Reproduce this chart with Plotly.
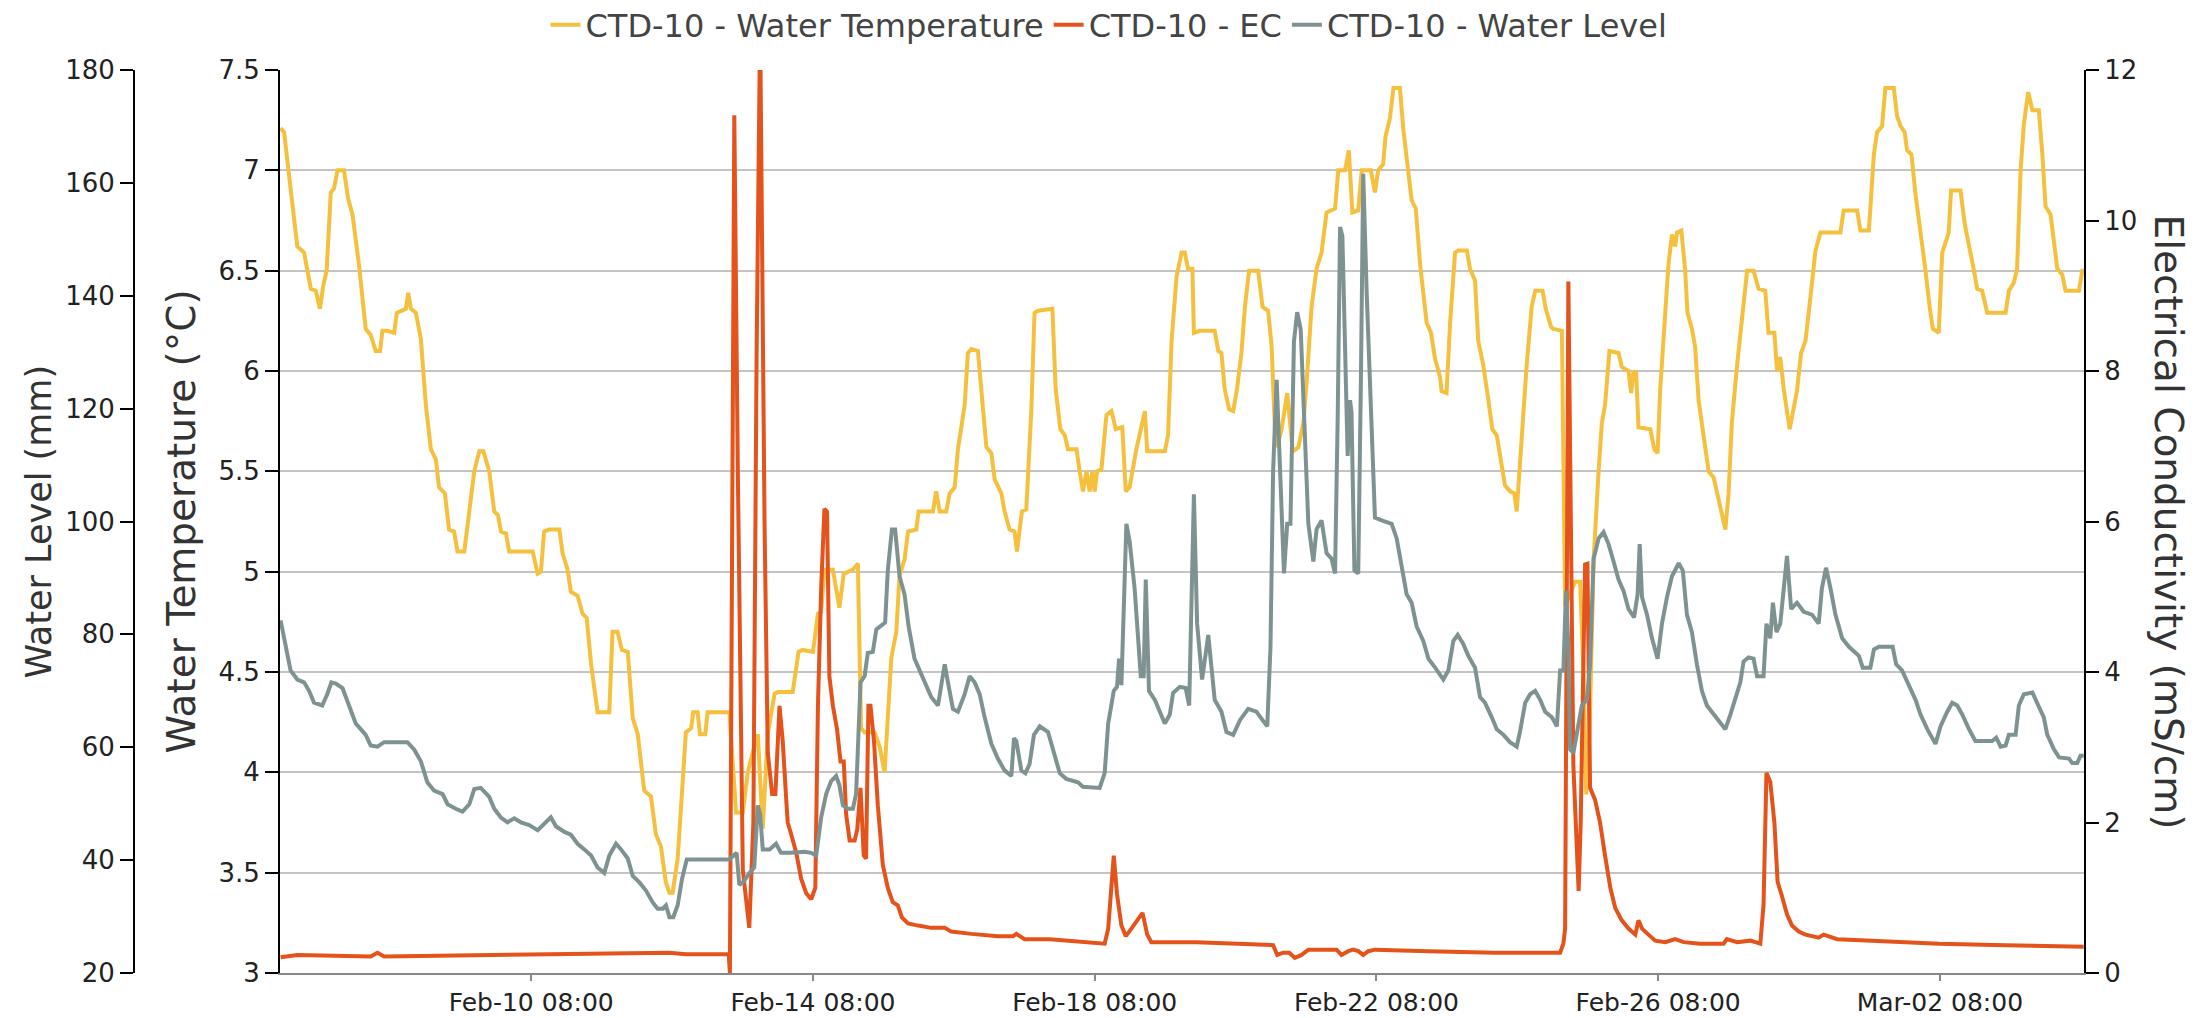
import pandas as pd
import plotly.graph_objects as go

# ---------------- data ----------------
START = "2023-02-06 18:00"          # hours below are counted from this moment
X_RANGE_H = [0.4, 615.1]

TEMP_H = [0.5, 1.8, 4.0, 6.3, 8.6, 9.7, 10.9, 12.6, 14.0, 15.2, 16.3, 17.7, 18.8, 20.0, 22.2, 23.6, 25.1,
          27.3, 29.6, 31.3, 33.0, 34.5, 35.3, 37.0, 39.3, 40.2, 42.1, 43.3, 44.1, 45.0, 46.7, 48.4, 50.1,
          51.8, 53.5, 54.6, 56.6, 58.0, 59.7, 60.9, 63.2, 64.9, 66.6, 68.3, 69.7, 71.7, 73.4, 74.7, 75.7,
          77.4, 78.5, 85.3, 86.5, 88.2, 89.3, 90.4, 92.1, 95.6, 96.7, 98.4, 99.5, 101.8, 103.5, 104.9,
          106.4, 108.6, 112.6, 113.7, 115.4, 116.9, 118.9, 120.6, 122.3, 124.5, 126.8, 128.5, 130.2,
          131.9, 133.1, 134.2, 135.9, 137.6, 138.7, 140.5, 141.2, 142.7, 143.5, 145.3, 146.1, 153.5,
          155.8, 158.1, 159.8, 161.5, 163.2, 164.9, 166.6, 168.9, 170.0, 175.1, 177.1, 178.5, 182.0,
          183.7, 184.8, 185.9, 188.8, 191.0, 192.5, 195.6, 197.3, 198.4, 199.6, 203.0, 204.7, 206.4,
          208.7, 210.4, 211.5, 213.2, 214.4, 217.2, 218.0, 222.9, 224.0, 225.2, 227.4, 228.6, 230.3,
          231.4, 233.7, 234.8, 236.0, 238.2, 239.4, 241.1, 242.8, 243.9, 246.2, 247.3, 249.0, 250.7,
          251.5, 252.4, 253.2, 254.7, 256.4, 257.5, 258.7, 263.6, 264.7, 266.3, 267.8, 268.9, 271.8,
          272.9, 274.0, 275.2, 276.3, 277.2, 278.0, 278.8, 280.3, 282.0, 283.7, 285.2, 287.4, 288.6,
          289.9, 292.2, 293.9, 295.1, 295.9, 301.9, 303.0, 304.2, 305.9, 307.6, 308.7, 309.8, 311.3,
          311.8, 313.8, 318.9, 320.1, 321.2, 322.3, 323.8, 325.2, 326.5, 328.0, 329.2, 330.6, 333.7,
          335.2, 337.1, 338.3, 339.4, 340.2, 341.7, 343.6, 345.5, 347.4, 349.1, 350.2, 351.9, 353.6,
          355.3, 357.0, 359.9, 361.0, 363.3, 364.6, 365.8, 367.8, 369.0, 372.1, 373.5, 374.6, 376.3,
          377.1, 378.6, 379.8, 382.0, 383.2, 384.9, 386.0, 387.4, 388.9, 391.1, 392.6, 394.0, 395.7,
          396.2, 397.9, 399.1, 400.8, 401.9, 404.8, 405.9, 407.6, 408.7, 410.4, 411.9, 413.5, 415.0,
          416.1, 417.8, 419.5, 421.0, 421.8, 423.5, 425.2, 426.9, 428.1, 430.6, 431.7, 433.5, 434.3,
          437.2, 438.3, 441.7, 443.4, 444.6, 445.5, 446.6, 448.0, 449.7, 450.8, 451.9, 453.4, 456.5,
          457.6, 459.9, 460.8, 461.6, 462.5, 463.3, 467.3, 468.7, 469.8, 470.7, 472.4, 473.5, 474.7,
          475.8, 476.4, 477.9, 479.2, 480.0, 481.5, 482.6, 483.8, 485.5, 487.2, 488.9, 490.6, 491.7,
          492.9, 494.0, 495.1, 496.9, 498.6, 500.3, 502.5, 504.2, 506.5, 507.6, 509.6, 510.5, 511.6,
          512.8, 514.8, 515.9, 517.3, 518.7, 520.2, 521.9, 523.6, 525.3, 532.1, 533.2, 537.8, 538.9,
          541.8, 543.5, 544.6, 546.3, 547.4, 550.3, 551.4, 552.6, 554.0, 554.8, 556.3, 557.7, 559.4,
          561.1, 562.5, 563.6, 565.6, 566.8, 567.9, 569.0, 569.8, 573.0, 574.5, 576.1, 577.6, 578.7,
          580.4, 582.1, 588.4, 589.5, 591.2, 592.3, 593.5, 594.6, 596.1, 597.5, 599.7, 600.9, 602.0,
          603.7, 604.9, 606.0, 607.7, 608.8, 613.4, 614.5, 615.0]
TEMP_V = [7.21, 7.19, 6.91, 6.62, 6.59, 6.51, 6.41, 6.40, 6.31, 6.43, 6.50, 6.89, 6.91, 7.00, 7.00, 6.86, 6.78,
          6.53, 6.21, 6.18, 6.10, 6.10, 6.20, 6.20, 6.19, 6.29, 6.30, 6.31, 6.39, 6.31, 6.29, 6.16, 5.83,
          5.61, 5.56, 5.42, 5.39, 5.21, 5.20, 5.10, 5.10, 5.30, 5.50, 5.60, 5.60, 5.50, 5.30, 5.28, 5.20,
          5.19, 5.10, 5.10, 5.10, 4.99, 5.00, 5.20, 5.21, 5.21, 5.09, 5.01, 4.90, 4.88, 4.79, 4.77,
          4.54, 4.30, 4.30, 4.70, 4.70, 4.61, 4.60, 4.27, 4.19, 3.91, 3.88, 3.69, 3.63,
          3.45, 3.40, 3.40, 3.57, 3.95, 4.20, 4.22, 4.30, 4.30, 4.19, 4.19, 4.30, 4.30,
          3.80, 3.80, 4.00, 4.10, 4.19, 3.72, 4.19, 4.39, 4.40, 4.40, 4.60, 4.61, 4.60,
          4.79, 4.80, 5.01, 5.01, 4.82, 4.99, 5.01, 5.04, 4.22, 4.20, 4.20, 4.13, 4.00,
          4.57, 4.70, 4.98, 5.06, 5.20, 5.21, 5.30, 5.30, 5.40, 5.30, 5.30, 5.39, 5.42,
          5.61, 5.83, 6.09, 6.11, 6.10, 5.91, 5.62, 5.59, 5.46, 5.39, 5.30, 5.21, 5.20,
          5.10, 5.21, 5.30, 5.31, 5.80, 6.29, 6.30, 6.31, 5.91, 5.71, 5.68, 5.61, 5.61,
          5.50, 5.40, 5.50, 5.40, 5.50, 5.40, 5.50, 5.51, 5.78, 5.80, 5.71, 5.72, 5.40,
          5.42, 5.61, 5.71, 5.80, 5.60, 5.60, 5.68, 6.15, 6.47, 6.59, 6.59, 6.51, 6.51,
          6.19, 6.20, 6.20, 6.10, 6.09, 5.91, 5.81, 5.80, 5.91, 6.09, 6.32, 6.50, 6.50,
          6.32, 6.30, 6.12, 5.71, 5.62, 5.71, 5.89, 5.60, 5.62, 5.74, 5.94, 6.32, 6.51,
          6.59, 6.79, 6.81, 7.00, 7.00, 7.10, 6.79, 6.80, 7.00, 7.00, 6.89, 7.00, 7.03,
          7.17, 7.26, 7.41, 7.41, 7.20, 6.97, 6.85, 6.81, 6.53, 6.24, 6.19, 6.06, 5.97,
          5.90, 5.89, 6.24, 6.59, 6.60, 6.60, 6.51, 6.45, 6.15, 6.03, 5.88, 5.71, 5.68,
          5.59, 5.43, 5.40, 5.39, 5.30, 5.68, 6.03, 6.32, 6.40, 6.40, 6.31, 6.22, 6.21,
          6.20, 4.83, 4.95, 4.95, 4.48, 3.89, 4.19, 5.06, 5.50, 5.74, 5.83, 6.10, 6.09,
          6.02, 6.00, 5.89, 6.00, 5.99, 5.72, 5.71, 5.61, 5.59, 5.91, 6.32, 6.53, 6.68,
          6.62, 6.69, 6.70, 6.50, 6.29, 6.21, 6.12, 5.85, 5.68, 5.50, 5.47, 5.36, 5.30,
          5.21, 5.39, 5.74, 6.03, 6.29, 6.50, 6.50, 6.41, 6.40, 6.19, 6.19, 6.00, 6.07,
          5.91, 5.71, 5.80, 5.90, 6.09, 6.15, 6.37, 6.60, 6.69, 6.69, 6.80, 6.80, 6.70,
          6.70, 7.08, 7.19, 7.22, 7.41, 7.41, 7.27, 7.22, 7.19, 7.10, 7.08, 6.88, 6.70,
          6.50, 6.32, 6.21, 6.19, 6.59, 6.64, 6.69, 6.90, 6.90, 6.73, 6.62, 6.50, 6.41,
          6.40, 6.29, 6.29, 6.40, 6.44, 6.51, 7.00, 7.23, 7.39, 7.30, 7.30, 7.08, 6.82,
          6.78, 6.62, 6.51, 6.48, 6.40, 6.40, 6.50, 6.50]

EC_H = [0.6, 6.3, 31.3, 33.6, 35.9, 60.0, 88.7, 110.0, 133.1, 138.7, 153.3, 153.7, 155.2, 156.4, 158.1,
        160.3, 161.7, 162.8, 164.0, 165.5, 166.6, 168.1, 169.2, 170.6, 171.7, 172.9, 173.4, 174.6, 176.3,
        178.0, 179.7, 181.4, 182.8, 183.7, 184.8, 185.9, 186.8, 187.6, 188.8, 190.2, 191.4, 192.5, 193.3,
        194.5, 196.2, 197.1, 198.2, 199.3, 200.1, 200.9, 201.6, 202.8, 204.1, 205.8, 207.5, 209.2, 210.9,
        212.3, 214.4, 217.8, 222.3, 226.9, 229.1, 236.0, 245.0, 250.2, 251.3, 254.1, 262.7, 281.4, 282.6,
        284.5, 285.6, 287.1, 288.6, 290.5, 292.8, 294.3, 295.9, 297.3, 312.7, 327.5, 338.8, 340.2, 342.2,
        344.3, 346.2, 348.5, 350.8, 360.4, 362.1, 364.4, 366.1, 367.8, 369.5, 371.2, 373.5, 391.7, 414.4,
        436.6, 437.7, 438.3, 439.4, 441.1, 442.9, 443.6, 445.1, 445.9, 446.8, 448.5, 450.2, 451.9, 453.7,
        455.4, 457.6, 459.9, 462.2, 463.3, 464.5, 466.7, 469.0, 472.4, 475.8, 478.7, 484.3, 492.3, 493.4,
        496.9, 501.4, 504.8, 505.9, 506.9, 508.2, 509.6, 510.7, 512.2, 513.9, 515.6, 517.9, 520.2, 524.7,
        526.4, 528.7, 531.0, 542.9, 565.6, 588.4, 615.0]
EC_V = [0.21, 0.24, 0.22, 0.27, 0.22, 0.23, 0.24, 0.25, 0.27, 0.25, 0.25, 0.00, 11.40, 6.68, 1.37,
        0.60, 2.00, 8.24, 12.6, 6.00, 2.93, 2.38, 2.38, 3.55, 3.08, 2.30, 2.00, 1.84, 1.60,
        1.25, 1.06, 0.98, 1.13, 3.55, 5.11, 6.17, 6.13, 3.94, 3.55, 3.24, 2.81, 2.81, 2.11,
        1.76, 1.76, 1.91, 2.46, 1.56, 1.52, 3.55, 3.55, 3.08, 2.23, 1.44, 1.13, 0.94, 0.90,
        0.74, 0.66, 0.63, 0.60, 0.60, 0.55, 0.52, 0.49, 0.49, 0.52, 0.45, 0.45, 0.39, 0.59,
        1.56, 1.05, 0.63, 0.49, 0.59, 0.73, 0.80, 0.51, 0.41, 0.41, 0.39, 0.37, 0.24, 0.27,
        0.27, 0.20, 0.24, 0.31, 0.31, 0.24, 0.29, 0.31, 0.29, 0.24, 0.29, 0.31, 0.29, 0.27,
        0.27, 0.39, 0.59, 9.19, 2.77, 1.09, 2.00, 5.43, 5.44, 2.46, 2.30, 2.00, 1.56, 1.13,
        0.86, 0.70, 0.59, 0.51, 0.70, 0.59, 0.51, 0.43, 0.41, 0.45, 0.41, 0.39, 0.39, 0.45,
        0.41, 0.43, 0.39, 0.90, 2.66, 2.54, 2.00, 1.21, 1.02, 0.78, 0.63, 0.55, 0.51, 0.47,
        0.51, 0.48, 0.45, 0.43, 0.39, 0.37, 0.35]

WL_H = [0.6, 2.3, 4.0, 6.3, 8.6, 10.3, 12.0, 14.8, 16.5, 17.9, 19.4, 21.7, 23.9, 26.2, 27.9, 29.6, 31.3,
        33.6, 35.9, 43.8, 46.1, 48.4, 50.6, 52.9, 55.8, 57.5, 60.3, 62.6, 64.9, 66.6, 68.8, 71.7, 73.4,
        75.6, 77.9, 80.2, 82.5, 85.3, 88.2, 90.4, 92.7, 94.4, 97.3, 99.5, 101.8, 104.1, 106.4, 108.6,
        110.9, 112.6, 114.9, 116.6, 118.9, 120.6, 122.8, 125.1, 127.4, 129.1, 130.8, 131.9, 133.1,
        134.4, 135.9, 137.4, 139.0, 153.5, 155.2, 156.0, 156.9, 158.6, 160.3, 162.0, 163.2, 164.0,
        164.9, 167.2, 169.4, 171.1, 172.9, 174.6, 179.1, 181.4, 183.1, 184.8, 186.5, 188.2, 189.9,
        191.0, 192.2, 193.9, 195.6, 196.7, 198.2, 199.6, 200.7, 202.4, 203.6, 205.3, 206.6, 207.5,
        208.9, 210.0, 211.5, 213.2, 214.6, 216.6, 218.3, 220.0, 222.3, 224.6, 225.7, 226.9, 228.0,
        229.7, 231.4, 233.7, 235.4, 237.1, 238.8, 240.5, 242.8, 245.0, 247.3, 249.6, 250.5, 251.3,
        253.0, 254.4, 255.8, 257.3, 259.3, 262.1, 264.4, 266.1, 268.3, 272.3, 274.0, 279.7, 281.4,
        282.6, 284.5, 285.6, 286.3, 287.1, 288.8, 289.9, 291.6, 293.7, 294.7, 295.4, 296.5, 298.5,
        300.2, 301.9, 303.6, 304.7, 307.0, 309.0, 310.2, 311.8, 312.9, 314.6, 316.7, 318.9, 321.2,
        322.9, 325.2, 327.5, 330.3, 333.1, 335.2, 336.8, 337.9, 338.8, 340.0, 341.3, 342.5, 343.6,
        344.7, 345.9, 347.0, 348.2, 349.6, 350.8, 352.5, 353.6, 355.3, 357.0, 358.7, 359.9, 360.8,
        361.6, 362.4, 363.3, 364.2, 365.0, 365.5, 366.5, 367.8, 368.7, 369.5, 370.7, 372.4, 373.5,
        375.8, 379.2, 380.9, 382.4, 384.3, 386.0, 387.7, 390.0, 391.7, 394.0, 396.8, 398.5, 400.2,
        401.7, 403.6, 405.3, 407.6, 409.3, 411.0, 413.3, 415.0, 417.3, 419.5, 421.8, 422.9, 424.7,
        426.4, 428.1, 429.8, 431.5, 433.8, 435.5, 436.6, 437.7, 438.6, 439.4, 440.0, 441.1, 442.3,
        444.0, 445.7, 446.8, 448.0, 449.7, 451.4, 453.1, 454.8, 456.5, 458.2, 459.9, 461.8, 463.0,
        463.7, 464.5, 466.2, 467.9, 469.8, 471.3, 473.0, 474.7, 477.0, 478.4, 479.8, 481.5, 483.2,
        484.9, 486.6, 488.9, 491.2, 492.9, 494.6, 496.3, 498.0, 499.1, 500.8, 502.5, 503.7, 505.9,
        506.9, 508.2, 509.1, 510.3, 511.6, 513.9, 515.3, 517.3, 519.6, 522.4, 524.7, 525.8, 527.2,
        528.7, 530.4, 532.7, 535.0, 538.4, 539.7, 542.3, 543.5, 545.2, 549.9, 551.1, 553.1, 555.4,
        557.7, 559.4, 561.7, 564.5, 566.2, 568.5, 570.2, 571.9, 573.6, 575.9, 578.1, 583.8, 585.2,
        586.7, 588.4, 589.5, 591.8, 592.9, 594.6, 597.5, 599.7, 601.4, 602.6, 604.9, 606.6, 610.0,
        611.1, 612.8, 613.9, 615.0]
WL_V = [82.5, 77.8, 73.6, 72.0, 71.5, 70.0, 67.9, 67.4, 69.4, 71.5, 71.3, 70.5, 67.4, 64.2, 63.2, 62.2, 60.3,
        60.1, 60.9, 60.9, 59.6, 57.5, 53.8, 52.3, 51.7, 49.9, 49.1, 48.6, 49.9, 52.6, 52.8, 51.2, 49.1,
        47.6, 46.7, 47.4, 46.7, 46.2, 45.3, 46.5, 47.6, 46.0, 45.0, 44.5, 42.9, 41.9, 40.8, 38.7,
        37.7, 40.8, 42.9, 41.9, 40.3, 37.2, 36.1, 34.6, 32.5, 31.4, 31.4, 32.0, 29.9,
        29.9, 32.0, 36.7, 40.1, 40.1, 40.8, 41.3, 35.6, 36.3, 37.7, 38.7, 49.7, 48.1,
        41.9, 41.9, 42.9, 41.3, 41.3, 41.3, 41.5, 41.3, 40.8, 47.6, 51.7, 54.0, 54.9,
        53.3, 49.7, 49.1, 49.1, 51.7, 71.5, 72.6, 76.7, 76.9, 80.9, 81.7, 82.1, 91.3,
        98.6, 98.6, 90.3, 87.1, 81.4, 75.7, 73.6, 71.5, 68.9, 67.4, 70.5, 74.7, 71.5,
        66.8, 66.3, 69.4, 72.6, 71.5, 69.4, 65.3, 60.6, 58.0, 55.9, 54.9, 61.6, 61.1,
        55.9, 55.4, 57.0, 62.2, 63.7, 62.7, 58.5, 55.4, 54.4, 53.8, 53.0, 52.8, 55.4,
        64.2, 70.0, 70.7, 75.7, 71.0, 99.6, 96.5, 88.2, 72.6, 72.6, 89.7, 70.0, 68.4,
        66.3, 64.2, 65.8, 69.6, 70.7, 70.5, 67.4, 104.8, 81.9, 72.0, 79.9, 68.4, 66.3,
        62.7, 62.2, 64.8, 66.8, 66.3, 64.8, 63.7, 77.8, 109.0, 125.1, 109.0, 90.8, 99.6,
        99.6, 131.9, 137.1, 134.0, 114.2, 99.6, 92.9, 98.6, 100.2, 94.4, 93.4, 90.8, 118.4,
        152.2, 150.6, 129.8, 111.6, 121.5, 119.4, 91.3, 90.8, 124.6, 161.6, 140.2, 114.2, 100.7,
        100.2, 99.6, 97.0, 92.3, 87.1, 85.6, 81.4, 78.8, 75.7, 74.1, 72.0, 73.6, 78.8,
        79.9, 78.3, 76.2, 74.1, 68.9, 67.9, 65.3, 63.2, 62.2, 60.9, 60.1, 62.7, 67.9,
        69.4, 70.0, 68.4, 66.3, 65.3, 63.7, 73.6, 73.6, 87.7, 77.8, 59.6, 59.0, 62.2,
        67.4, 68.4, 74.7, 93.4, 97.0, 98.1, 96.0, 92.9, 89.7, 87.7, 84.5, 83.0, 87.1,
        96.0, 86.6, 83.5, 79.3, 75.7, 81.9, 86.6, 90.3, 92.6, 91.3, 83.5, 80.4, 74.7,
        70.0, 67.4, 65.8, 64.2, 63.2, 65.8, 68.9, 71.5, 75.2, 75.9, 75.7, 72.6, 72.6,
        81.9, 79.3, 85.6, 80.4, 81.9, 93.9, 84.5, 85.6, 84.0, 83.5, 81.9, 88.2, 91.8,
        88.2, 83.5, 79.3, 77.8, 76.2, 74.1, 74.1, 77.3, 77.8, 77.8, 74.7, 73.6, 71.0,
        68.4, 65.8, 63.2, 60.6, 63.7, 66.3, 67.9, 67.4, 65.8, 63.2, 61.1, 61.1, 61.7,
        60.1, 60.3, 62.2, 62.2, 67.4, 69.4, 69.7, 67.4, 65.3, 62.2, 59.6, 58.2, 58.0,
        57.2, 57.2, 58.5, 58.5]

X_TICKS = ["2023-02-10 08:00", "2023-02-14 08:00", "2023-02-18 08:00",
           "2023-02-22 08:00", "2023-02-26 08:00", "2023-03-02 08:00"]
X_TICK_TEXT = ["Feb-10 08:00", "Feb-14 08:00", "Feb-18 08:00",
               "Feb-22 08:00", "Feb-26 08:00", "Mar-02 08:00"]
TEMP_TICKS = [3, 3.5, 4, 4.5, 5, 5.5, 6, 6.5, 7, 7.5]
TEMP_TICK_TEXT = ["3", "3.5", "4", "4.5", "5", "5.5", "6", "6.5", "7", "7.5"]
EC_TICKS = [0, 2, 4, 6, 8, 10, 12]
WL_TICKS = [20, 40, 60, 80, 100, 120, 140, 160, 180]

NAMES = ["CTD-10 - Water Temperature", "CTD-10 - EC", "CTD-10 - Water Level"]
COLORS = ["#F6C03F", "#E4531C", "#7E9292"]
TITLES = ["Water Level (mm)", "Water Temperature (°C)", "Electrical Conductivity (mS/cm)"]

# ---------------- figure ----------------
t0 = pd.Timestamp(START)
def to_time(hours):
    return t0 + pd.to_timedelta(hours, unit="h")

FONT = "DejaVu Sans, Verdana, sans-serif"
W, H = 2208, 1018
ML, MR, MT, MB = 134, 124, 70, 45
PLOT_LEFT = 280

fig = go.Figure()
fig.add_trace(go.Scatter(x=to_time(TEMP_H), y=TEMP_V, name=NAMES[0], mode="lines",
                         line=dict(color=COLORS[0], width=4), yaxis="y"))
fig.add_trace(go.Scatter(x=to_time(EC_H), y=EC_V, name=NAMES[1], mode="lines",
                         line=dict(color=COLORS[1], width=4), yaxis="y2"))
fig.add_trace(go.Scatter(x=to_time(WL_H), y=WL_V, name=NAMES[2], mode="lines",
                         line=dict(color=COLORS[2], width=4), yaxis="y3"))

paper_w = W - ML - MR
axis_common = dict(ticks="outside", ticklen=13, tickwidth=2, tickcolor="#000",
                   showline=True, linecolor="#000", linewidth=2, zeroline=False,
                   tickfont=dict(size=26, color="#222"))
fig.update_layout(
    width=W, height=H,
    margin=dict(l=ML, r=MR, t=MT, b=MB, autoexpand=False),
    paper_bgcolor="white", plot_bgcolor="white",
    font=dict(family=FONT, size=24, color="#222"),
    showlegend=True,
    legend=dict(orientation="h", x=0.5, xanchor="center", y=(H - MB - 25) / (H - MT - MB),
                yanchor="middle", font=dict(size=32, color="#444"), traceorder="normal",
                itemwidth=30, bgcolor="rgba(0,0,0,0)"),
    xaxis=dict(type="date", domain=[(PLOT_LEFT - ML) / paper_w, 1],
               range=[to_time(X_RANGE_H[0]), to_time(X_RANGE_H[1])],
               tickmode="array", tickvals=X_TICKS, ticktext=X_TICK_TEXT,
               ticks="outside", ticklen=6, tickwidth=2, tickcolor="#888",
               showline=True, linecolor="#888", linewidth=2, showgrid=False, zeroline=False,
               tickfont=dict(size=25, color="#222")),
    yaxis=dict(range=[3, 7.5], tickmode="array", tickvals=TEMP_TICKS, ticktext=TEMP_TICK_TEXT,
               showgrid=True, gridcolor="#c4c4c4", gridwidth=2, **axis_common),
    yaxis2=dict(range=[0, 12], overlaying="y", side="right", anchor="x",
                tickmode="array", tickvals=EC_TICKS, showgrid=False, **axis_common),
    yaxis3=dict(range=[20, 180], overlaying="y", side="left", anchor="free", position=0,
                tickmode="array", tickvals=WL_TICKS, showgrid=False, **axis_common),
    annotations=[
        dict(text=TITLES[0], xref="paper", yref="paper", x=0, y=0.5, xshift=-96,
             textangle=-90, showarrow=False, xanchor="center", yanchor="middle",
             font=dict(size=35, color="#333", family=FONT)),
        dict(text=TITLES[1], xref="paper", yref="paper", x=(PLOT_LEFT - ML) / paper_w, y=0.5,
             xshift=-99, textangle=-90, showarrow=False, xanchor="center", yanchor="middle",
             font=dict(size=39, color="#333", family=FONT)),
        dict(text=TITLES[2], xref="paper", yref="paper", x=1, y=0.5, xshift=84,
             textangle=90, showarrow=False, xanchor="center", yanchor="middle",
             font=dict(size=39, color="#333", family=FONT)),
    ],
)

fig.write_html("out.html", include_plotlyjs=True, config={"displayModeBar": False},
               post_script="document.body.style.margin='0';document.body.style.padding='0';")
